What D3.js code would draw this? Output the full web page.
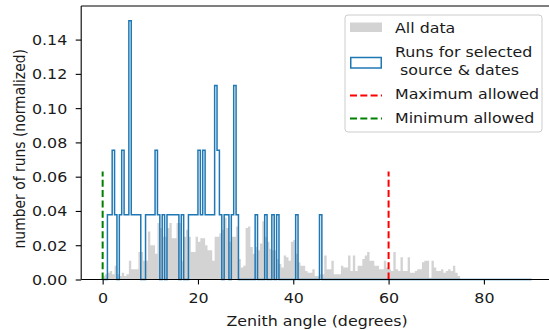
<!DOCTYPE html>
<html>
<head>
<meta charset="utf-8">
<script src="https://cdn.jsdelivr.net/npm/d3@7"></script>
<style>
  html, body { margin: 0; padding: 0; background: #ffffff; }
  svg { display: block; }
  text { font-family: "DejaVu Sans", sans-serif; fill: #1a1a1a; }
</style>
</head>
<body>
<svg id="chart" width="549" height="330"></svg>
<script>
// Histogram bins: 0.5 degree wide, starting at 0 degrees
const binWidth = 0.5;
const binStart = 0;

// "All data" normalized density per bin, 0 .. 75 degrees
const allDataDensity = [
  0.002, 0.003, 0.004, 0.005, 0.003, 0.008, 0.003, 0.002, 0.004, 0.002,
  0.003, 0.011, 0.006, 0.006, 0.006, 0.016, 0.016, 0.011, 0.011, 0.028,
  0.020, 0.020, 0.015, 0.033, 0.030, 0.025, 0.025, 0.030, 0.033, 0.024,
  0.024, 0.033, 0.033, 0.011, 0.025, 0.029, 0.025, 0.016, 0.016, 0.025,
  0.022, 0.024, 0.024, 0.020, 0.017, 0.017, 0.011, 0.025, 0.025, 0.027,
  0.029, 0.036, 0.030, 0.022, 0.025, 0.025, 0.031, 0.012, 0.007, 0.008,
  0.030, 0.031, 0.019, 0.015, 0.019, 0.017, 0.021, 0.034, 0.025, 0.022,
  0.018, 0.017, 0.017, 0.012, 0.009, 0.007, 0.014, 0.013, 0.011, 0.022,
  0.023, 0.015, 0.010, 0.008, 0.008, 0.005, 0.004, 0.004, 0.006, 0.002,
  0.002, 0.003, 0.003, 0.014, 0.006, 0.006, 0.011, 0.003, 0.003, 0.003,
  0.008, 0.007, 0.007, 0.014, 0.005, 0.014, 0.005, 0.008, 0.008, 0.012,
  0.014, 0.016, 0.011, 0.011, 0.008, 0.008, 0.006, 0.006, 0.011, 0.007,
  0.006, 0.005, 0.016, 0.006, 0.005, 0.013, 0.005, 0.005, 0.013, 0.004,
  0.004, 0.005, 0.006, 0.006, 0.010, 0.011, 0.011, 0.001, 0.011, 0.007,
  0.005, 0.005, 0.006, 0.004, 0.005, 0.006, 0.005, 0.008, 0.004, 0.002
];

// Selected runs: number of runs per bin, 0 .. 90 degrees
const selectedCounts = [
  0, 0, 1, 1, 2, 1, 0, 1, 2, 1,    // 0 - 5
  1, 4, 1, 1, 1, 1, 0, 0, 1, 1,    // 5 - 10
  1, 1, 2, 1, 0, 1, 0, 1, 1, 1,    // 10 - 15
  1, 1, 0, 1, 0, 0, 1, 1, 1, 1,    // 15 - 20
  2, 1, 2, 1, 1, 1, 1, 3, 2, 1,    // 20 - 25
  0, 1, 1, 0, 1, 3, 1, 0, 0, 0,    // 25 - 30
  0, 0, 0, 0, 1, 0, 0, 0, 1, 0,    // 30 - 35
  0, 1, 0, 1, 0, 0, 0, 0, 0, 0,    // 35 - 40
  0, 1, 0, 0, 0, 0, 0, 0, 0, 0,    // 40 - 45
  0, 1, 0, 0, 0, 0, 0, 0, 0, 0,    // 45 - 50
  0, 0, 0, 0, 0, 0, 0, 0, 0, 0,
  0, 0, 0, 0, 0, 0, 0, 0, 0, 0,
  0, 0, 0, 0, 0, 0, 0, 0, 0, 0,
  0, 0, 0, 0, 0, 0, 0, 0, 0, 0,
  0, 0, 0, 0, 0, 0, 0, 0, 0, 0,
  0, 0, 0, 0, 0, 0, 0, 0, 0, 0,
  0, 0, 0, 0, 0, 0, 0, 0, 0, 0,
  0, 0, 0, 0, 0, 0, 0, 0, 0, 0
];
const selectedTotal = 53;

// Zenith limits
const maxAllowed = 60;
const minAllowed = 0;
const limitTop = 0.063;

const xTicks = [0, 20, 40, 60, 80];
const yTicks = [0, 0.02, 0.04, 0.06, 0.08, 0.10, 0.12, 0.14];

const legendLabels = ["All data", ["Runs for selected", " source & dates"], "Maximum allowed", "Minimum allowed"];
const xLabel = "Zenith angle (degrees)";
const yLabel = "number of runs (normalized)";

// ---- layout & styles ----
const fontSize = 13.9;
const textStretch = 1.14;     // horizontal stretch of the figure
const grayColor = "#d3d3d3";
const blueColor = "#1f77b4";
const redColor = "#ff0000";
const greenColor = "#008000";

const frame = { left: 81.2, right: 553, top: 6, bottom: 279.5 };

const svg = d3.select("#chart");

const selectedDensity = selectedCounts.map(c => c / (selectedTotal * binWidth));
const edgeEnd = binStart + selectedCounts.length * binWidth;

const xExtent = [binStart, edgeEnd];
const xPad = (xExtent[1] - xExtent[0]) * 0.05;
const x = d3.scaleLinear().domain([xExtent[0] - xPad, xExtent[1] + xPad]).range([frame.left, frame.right]);
const y = d3.scaleLinear().domain([0, 0.1596]).range([frame.bottom, frame.top]);

const root = svg.append("g");

// step points for a histogram
function stepPoints(values) {
  const pts = [];
  values.forEach((v, i) => {
    const a = binStart + i * binWidth;
    pts.push([a, v], [a + binWidth, v]);
  });
  return pts;
}

// All data: filled bars
const grayArea = d3.area()
  .x(d => x(d[0]))
  .y0(y(0))
  .y1(d => y(d[1]));
root.append("path")
  .attr("d", grayArea(stepPoints(allDataDensity)))
  .attr("fill", grayColor);

// Selected runs: step outline
const bluePts = [[binStart, 0], ...stepPoints(selectedDensity), [edgeEnd, 0]];
const stepLine = d3.line().x(d => x(d[0])).y(d => y(d[1]));
root.append("path")
  .attr("d", stepLine(bluePts))
  .attr("fill", "none")
  .attr("stroke", blueColor)
  .attr("stroke-width", 1.5)
  .attr("stroke-linejoin", "miter");

// limit lines
function limitLine(v, color) {
  root.append("line")
    .attr("x1", x(v)).attr("x2", x(v))
    .attr("y1", y(0)).attr("y2", y(limitTop))
    .attr("stroke", color)
    .attr("stroke-width", 2)
    .attr("stroke-dasharray", "7,3.3");
}
limitLine(maxAllowed, redColor);
limitLine(minAllowed, greenColor);

// axes
const xAxis = d3.axisBottom(x).tickValues(xTicks).tickFormat(d3.format("d")).tickSize(4.9).tickPadding(4);
const yAxis = d3.axisLeft(y).tickValues(yTicks).tickFormat(d3.format(".2f")).tickSize(5.5).tickPadding(5);

const gx = root.append("g").attr("transform", `translate(0,${frame.bottom})`).call(xAxis);
const gy = root.append("g").attr("transform", `translate(${frame.left},0)`).call(yAxis);

[gx, gy].forEach(g => {
  g.select(".domain").remove();
  g.selectAll(".tick line").attr("stroke", "#000").attr("stroke-width", 1.1);
  g.selectAll(".tick text")
    .style("font-family", "DejaVu Sans")
    .style("font-size", fontSize + "px")
    .attr("fill", "#1a1a1a");
});
gx.selectAll(".tick text").attr("y", 0).attr("dy", 0)
  .attr("transform", `translate(0,23.5) scale(${textStretch},1)`);
gy.selectAll(".tick text").attr("x", 0).attr("dy", 0)
  .attr("transform", `translate(-14,5) scale(${textStretch},1)`);

// spines
root.append("line").attr("x1", frame.left).attr("x2", frame.left).attr("y1", frame.top).attr("y2", frame.bottom)
  .attr("stroke", "#000").attr("stroke-width", 1.1);
root.append("line").attr("x1", frame.left).attr("x2", frame.right).attr("y1", frame.bottom).attr("y2", frame.bottom)
  .attr("stroke", "#000").attr("stroke-width", 1.1);
root.append("line").attr("x1", frame.left).attr("x2", frame.right).attr("y1", frame.top).attr("y2", frame.top)
  .attr("stroke", "#000").attr("stroke-width", 1.1);
root.append("line").attr("x1", frame.right).attr("x2", frame.right).attr("y1", frame.top).attr("y2", frame.bottom)
  .attr("stroke", "#000").attr("stroke-width", 1.1);

// axis labels
root.append("text")
  .attr("transform", `translate(${(frame.left + frame.right) / 2},326) scale(${textStretch},1)`)
  .attr("text-anchor", "middle")
  .style("font-size", fontSize + "px")
  .text(xLabel);
root.append("text")
  .attr("transform", `translate(25,${(frame.top + frame.bottom) / 2 + 6}) scale(${textStretch},1) rotate(-90)`)
  .attr("text-anchor", "middle")
  .style("font-size", fontSize + "px")
  .text(yLabel);

// legend
const lg = root.append("g");
lg.append("rect")
  .attr("x", 345).attr("y", 15).attr("width", 197).attr("height", 117)
  .attr("rx", 3).attr("ry", 3)
  .attr("fill", "#ffffff").attr("fill-opacity", 0.8)
  .attr("stroke", "#cccccc").attr("stroke-width", 1);

const hx0 = 350, hx1 = 382, tx = 395;
lg.append("rect").attr("x", hx0).attr("y", 22.5).attr("width", hx1 - hx0).attr("height", 9.5).attr("fill", grayColor);
lg.append("rect").attr("x", hx0 + 0.75).attr("y", 57.5).attr("width", hx1 - hx0 - 1.5).attr("height", 10.5)
  .attr("fill", "none").attr("stroke", blueColor).attr("stroke-width", 1.5);
lg.append("line").attr("x1", hx0).attr("x2", hx1).attr("y1", 95.5).attr("y2", 95.5)
  .attr("stroke", redColor).attr("stroke-width", 2).attr("stroke-dasharray", "7,3.3");
lg.append("line").attr("x1", hx0).attr("x2", hx1).attr("y1", 118.5).attr("y2", 118.5)
  .attr("stroke", greenColor).attr("stroke-width", 2).attr("stroke-dasharray", "7,3.3");

const legendBaselines = [[32.5], [56.7, 75.3], [98.5], [123]];
legendLabels.forEach((lab, i) => {
  const lines = Array.isArray(lab) ? lab : [lab];
  lines.forEach((line, j) => {
    lg.append("text")
      .attr("transform", `translate(${tx},${legendBaselines[i][j]}) scale(${textStretch},1)`)
      .style("font-size", fontSize + "px")
      .style("white-space", "pre")
      .attr("xml:space", "preserve")
      .text(line);
  });
});
</script>
</body>
</html>
